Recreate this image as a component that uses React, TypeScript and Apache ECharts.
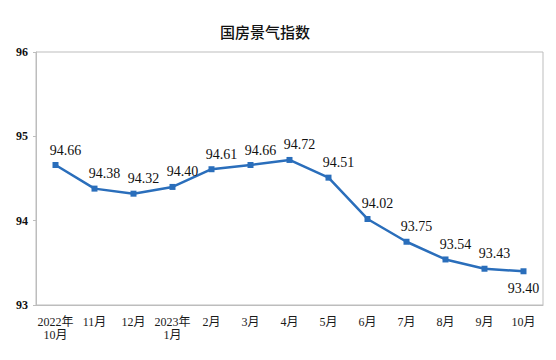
import React, { useEffect, useRef } from "react";
import * as echarts from "echarts";

const categories = ["2022年\n10月", "11月", "12月", "2023年\n1月", "2月", "3月", "4月", "5月", "6月", "7月", "8月", "9月", "10月"];
const values = [94.66, 94.38, 94.32, 94.4, 94.61, 94.66, 94.72, 94.51, 94.02, 93.75, 93.54, 93.43, 93.4];
const title = "国房景气指数";

const serif = "'Liberation Serif', 'Times New Roman', 'Noto Sans CJK SC', serif";

export default function App() {
  const ref = useRef<HTMLDivElement>(null);
  useEffect(() => {
    if (!ref.current) return;
    const chart = echarts.init(ref.current, null, { renderer: "svg" });
    chart.setOption({
      animation: false,
      backgroundColor: "#fff",
      title: {
        text: title,
        left: 252,
        textAlign: "center",
        top: 11,
        textStyle: { fontSize: 15, fontWeight: 500, color: "#111", fontFamily: "'Noto Sans CJK SC', sans-serif" },
      },
      grid: { left: 28, right: 5, top: 44, bottom: 47, show: true, borderColor: "#bdbdbd", borderWidth: 1 },
      xAxis: {
        type: "category",
        data: categories,
        boundaryGap: true,
        axisLine: { lineStyle: { color: "#bdbdbd" } },
        axisTick: { inside: true, length: 5, lineStyle: { color: "#bdbdbd" } },
        axisLabel: { color: "#1a1a1a", fontSize: 12, fontFamily: serif, lineHeight: 13, margin: 10, interval: 0 },
      },
      yAxis: {
        type: "value",
        min: 93,
        max: 96,
        interval: 1,
        axisLine: { show: true, lineStyle: { color: "#bdbdbd" } },
        axisTick: { show: true, length: 3, lineStyle: { color: "#bdbdbd" } },
        splitLine: { show: false },
        axisLabel: { color: "#111", fontSize: 12, fontWeight: "bold", fontFamily: serif, margin: 8 },
      },
      series: [
        {
          type: "line",
          data: values.map((v, i) =>
            i === values.length - 1
              ? { value: v, label: { position: "bottom", offset: [0, 2] } }
              : v
          ),
          symbol: "rect",
          symbolSize: 6,
          lineStyle: { color: "#2a6ebb", width: 2.5 },
          itemStyle: { color: "#2a6ebb" },
          label: {
            show: true,
            position: "top",
            distance: 5,
            offset: [10, 0],
            color: "#111",
            fontSize: 14,
            fontFamily: serif,
            formatter: (p: any) => Number(p.value).toFixed(2),
          },
        },
      ],
    });
    return () => chart.dispose();
  }, []);
  return <div ref={ref} style={{ width: 540, height: 344 }} />;
}
